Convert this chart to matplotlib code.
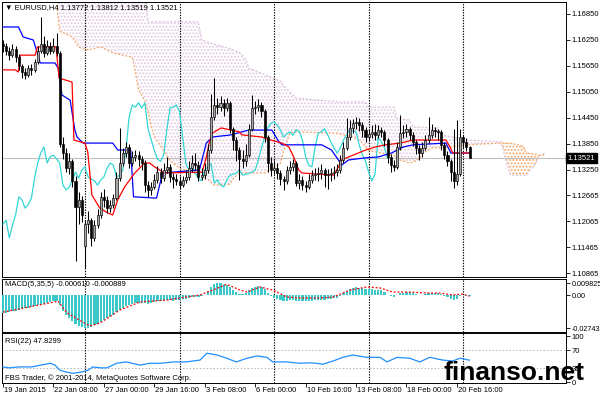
import numpy as np
import matplotlib.pyplot as plt
from matplotlib.transforms import blended_transform_factory as blend

plt.rcParams['font.family'] = ['Liberation Sans', 'DejaVu Sans']
plt.rcParams['hatch.linewidth'] = 0.9

# EURUSD H4, bar 0 = 19 Jan 2015 16:00 (server time)
opens = [1.1615, 1.1610, 1.1600, 1.1590, 1.1605, 1.1585, 1.1565, 1.1550, 1.1545, 1.1560,
         1.1555, 1.1575, 1.1600, 1.1615, 1.1595, 1.1610, 1.1600, 1.1612, 1.1595, 1.1385,
         1.1365, 1.1330, 1.1345, 1.1300, 1.1240, 1.1255, 1.1150, 1.1200, 1.1209, 1.1168,
         1.1198, 1.1221, 1.1263, 1.1256, 1.1237, 1.1245, 1.1260, 1.1306, 1.1341, 1.1365,
         1.1378, 1.1341, 1.1356, 1.1359, 1.1350, 1.1341, 1.1290, 1.1279, 1.1285, 1.1302,
         1.1320, 1.1306, 1.1325, 1.1332, 1.1309, 1.1304, 1.1300, 1.1290, 1.1302, 1.1309,
         1.1329, 1.1341, 1.1336, 1.1309, 1.1313, 1.1325, 1.1371, 1.1447, 1.1475, 1.1470,
         1.1480, 1.1468, 1.1480, 1.1420, 1.1395, 1.1370, 1.1350, 1.1345, 1.1360, 1.1420,
         1.1468, 1.1470, 1.1475, 1.1460, 1.1400, 1.1340, 1.1325, 1.1330, 1.1318, 1.1305,
         1.1300, 1.1325, 1.1332, 1.1340, 1.1295, 1.1302, 1.1290, 1.1286, 1.1302, 1.1313,
         1.1315, 1.1318, 1.1325, 1.1313, 1.1315, 1.1318, 1.1320, 1.1325, 1.1348, 1.1376,
         1.1401, 1.1422, 1.1433, 1.1436, 1.1429, 1.1417, 1.1401, 1.1408, 1.1413, 1.1405,
         1.1418, 1.1413, 1.1394, 1.1355, 1.1336, 1.1332, 1.1378, 1.1410, 1.1413, 1.1420,
         1.1406, 1.1390, 1.1376, 1.1364, 1.1376, 1.1394, 1.1406, 1.1417, 1.1415, 1.1413,
         1.1383, 1.1360, 1.1345, 1.1320, 1.1300, 1.1315, 1.1400, 1.1390, 1.1377]
highs = [1.1625, 1.1618, 1.1608, 1.1615, 1.1610, 1.1592, 1.1570, 1.1560, 1.1568, 1.1570,
         1.1582, 1.1610, 1.1679, 1.1635, 1.1625, 1.1620, 1.1630, 1.1640, 1.1600, 1.1400,
         1.1375, 1.1365, 1.1350, 1.1310, 1.1275, 1.1265, 1.1210, 1.1230, 1.1215, 1.1210,
         1.1235, 1.1275, 1.1280, 1.1265, 1.1255, 1.1270, 1.1320, 1.1422, 1.1375, 1.1390,
         1.1385, 1.1368, 1.1372, 1.1368, 1.1358, 1.1348, 1.1300, 1.1298, 1.1315, 1.1335,
         1.1330, 1.1340, 1.1355, 1.1338, 1.1318, 1.1315, 1.1310, 1.1312, 1.1325, 1.1345,
         1.1360, 1.1365, 1.1345, 1.1330, 1.1340, 1.1385, 1.1500, 1.1537, 1.1490, 1.1495,
         1.1488, 1.1492, 1.1485, 1.1425, 1.1400, 1.1378, 1.1372, 1.1385, 1.1430, 1.1498,
         1.1485, 1.1488, 1.1482, 1.1465, 1.1405, 1.1355, 1.1348, 1.1340, 1.1325, 1.1312,
         1.1335, 1.1345, 1.1350, 1.1345, 1.1315, 1.1310, 1.1300, 1.1315, 1.1325, 1.1330,
         1.1332, 1.1338, 1.1330, 1.1328, 1.1330, 1.1335, 1.1338, 1.1360, 1.1390, 1.1445,
         1.1440, 1.1442, 1.1448, 1.1445, 1.1435, 1.1425, 1.1420, 1.1428, 1.1432, 1.1428,
         1.1425, 1.1418, 1.1398, 1.1362, 1.1348, 1.1390, 1.1452, 1.1428, 1.1432, 1.1425,
         1.1412, 1.1395, 1.1382, 1.1390, 1.1405, 1.1447, 1.1430, 1.1425, 1.1420, 1.1418,
         1.1390, 1.1368, 1.1350, 1.1420, 1.1440, 1.1420, 1.1405, 1.1398, 1.1381]
lows = [1.1598, 1.1590, 1.1578, 1.1585, 1.1575, 1.1555, 1.1538, 1.1535, 1.1540, 1.1545,
        1.1550, 1.1570, 1.1595, 1.1585, 1.1590, 1.1592, 1.1595, 1.1588, 1.1378, 1.1350,
        1.1320, 1.1315, 1.1285, 1.1114, 1.1200, 1.1205, 1.1099, 1.1180, 1.1150, 1.1160,
        1.1190, 1.1215, 1.1240, 1.1225, 1.1228, 1.1238, 1.1255, 1.1300, 1.1335, 1.1355,
        1.1330, 1.1335, 1.1345, 1.1335, 1.1325, 1.1275, 1.1263, 1.1268, 1.1280, 1.1295,
        1.1295, 1.1300, 1.1318, 1.1298, 1.1283, 1.1290, 1.1280, 1.1285, 1.1295, 1.1302,
        1.1320, 1.1325, 1.1300, 1.1302, 1.1305, 1.1318, 1.1365, 1.1440, 1.1455, 1.1460,
        1.1450, 1.1460, 1.1410, 1.1370, 1.1345, 1.1302, 1.1330, 1.1335, 1.1355, 1.1415,
        1.1455, 1.1460, 1.1448, 1.1390, 1.1320, 1.1312, 1.1315, 1.1305, 1.1290, 1.1278,
        1.1292, 1.1315, 1.1322, 1.1288, 1.1282, 1.1278, 1.1275, 1.1280, 1.1295, 1.1302,
        1.1300, 1.1305, 1.1285, 1.1280, 1.1300, 1.1305, 1.1310, 1.1318, 1.1340, 1.1370,
        1.1395, 1.1410, 1.1420, 1.1415, 1.1400, 1.1390, 1.1392, 1.1398, 1.1395, 1.1398,
        1.1400, 1.1380, 1.1340, 1.1320, 1.1322, 1.1328, 1.1372, 1.1398, 1.1402, 1.1395,
        1.1380, 1.1362, 1.1348, 1.1355, 1.1370, 1.1388, 1.1398, 1.1400, 1.1395, 1.1372,
        1.1350, 1.1335, 1.1300, 1.1283, 1.1290, 1.1310, 1.1375, 1.1368, 1.1352]
closes = [1.1610, 1.1600, 1.1590, 1.1605, 1.1585, 1.1565, 1.1550, 1.1545, 1.1560, 1.1555,
          1.1575, 1.1600, 1.1615, 1.1595, 1.1610, 1.1600, 1.1612, 1.1595, 1.1385, 1.1365,
          1.1330, 1.1345, 1.1300, 1.1240, 1.1255, 1.1220, 1.1200, 1.1209, 1.1168, 1.1198,
          1.1221, 1.1263, 1.1256, 1.1237, 1.1245, 1.1260, 1.1306, 1.1341, 1.1365, 1.1378,
          1.1341, 1.1356, 1.1359, 1.1350, 1.1341, 1.1290, 1.1279, 1.1285, 1.1302, 1.1320,
          1.1306, 1.1325, 1.1332, 1.1309, 1.1304, 1.1300, 1.1290, 1.1302, 1.1309, 1.1329,
          1.1341, 1.1336, 1.1309, 1.1313, 1.1325, 1.1371, 1.1447, 1.1475, 1.1470, 1.1480,
          1.1468, 1.1480, 1.1420, 1.1395, 1.1370, 1.1350, 1.1345, 1.1360, 1.1420, 1.1468,
          1.1470, 1.1475, 1.1460, 1.1400, 1.1340, 1.1325, 1.1330, 1.1318, 1.1305, 1.1300,
          1.1325, 1.1332, 1.1340, 1.1295, 1.1302, 1.1290, 1.1286, 1.1302, 1.1313, 1.1315,
          1.1318, 1.1325, 1.1313, 1.1315, 1.1318, 1.1320, 1.1325, 1.1348, 1.1376, 1.1401,
          1.1422, 1.1433, 1.1436, 1.1429, 1.1417, 1.1401, 1.1408, 1.1413, 1.1405, 1.1418,
          1.1413, 1.1394, 1.1355, 1.1336, 1.1332, 1.1378, 1.1410, 1.1413, 1.1420, 1.1406,
          1.1390, 1.1376, 1.1364, 1.1376, 1.1394, 1.1406, 1.1417, 1.1415, 1.1413, 1.1383,
          1.1360, 1.1345, 1.1320, 1.1300, 1.1315, 1.1400, 1.1390, 1.1377, 1.1352]

time_labels = ["19 Jan 2015", "22 Jan 08:00", "27 Jan 00:00", "29 Jan 16:00", "3 Feb 08:00",
               "6 Feb 00:00", "10 Feb 16:00", "13 Feb 08:00", "18 Feb 00:00", "20 Feb 16:00"]
label_bars = [0, 16, 32, 48, 64, 80, 96, 112, 128, 144]
week_bars = [26, 56, 86, 116, 146]

# Ichimoku (9, 26, 52) lines: (bar, price)
tenkan_bar = [0, 3.9, 4.9, 5.5, 10.2, 10.9, 16.8, 17.8, 21.9, 22.5, 26, 26.9, 28.2, 30.7,
              33.2, 34.8, 36.4, 38.6, 41.8, 44.9, 46.5, 48.1, 51.2, 63.2, 64.5, 65.4, 66.4,
              69.2, 72.4, 74.9, 75.8, 82.1, 85, 88.5, 90.7, 92.2, 93.8, 94.8, 104.9, 106.4,
              107.4, 109.6, 112.7, 115, 118.1, 121.3, 126, 130.1, 140.5, 141.8, 142.7, 148]
tenkan_val = [1.1556, 1.1556, 1.1551, 1.1590, 1.1590, 1.1609, 1.1609, 1.1537, 1.1528, 1.1394,
              1.1387, 1.1366, 1.1267, 1.1237, 1.1226, 1.1221, 1.1256, 1.1286, 1.1318, 1.1341,
              1.1341, 1.1332, 1.1318, 1.1320, 1.1355, 1.1387, 1.1410, 1.1422, 1.1417, 1.1413,
              1.1406, 1.1401, 1.1394, 1.1387, 1.1378, 1.1355, 1.1325, 1.1318, 1.1313, 1.1332,
              1.1348, 1.1355, 1.1364, 1.1371, 1.1378, 1.1383, 1.1387, 1.1394, 1.1394, 1.1378,
              1.1364, 1.1364]
kijun_bar = [0, 4.9, 6.4, 9.6, 10.9, 11.8, 16.5, 17.5, 18.7, 21.3, 22.8, 23.5, 25.4, 34.8,
             36.4, 40.5, 41.4, 48.7, 50.6, 62.3, 64.5, 66.4, 72.4, 75.8, 78, 85.3, 87.5, 88.5,
             101.1, 104.2, 106.4, 107.4, 109.6, 115, 119.1, 123.2, 127, 130.1, 140.5, 142.1, 148]
kijun_val = [1.1655, 1.1655, 1.1632, 1.1625, 1.1595, 1.1572, 1.1572, 1.1560, 1.1498, 1.1486,
             1.1417, 1.1401, 1.1387, 1.1387, 1.1371, 1.1371, 1.1263, 1.1260, 1.1318, 1.1325,
             1.1387, 1.1401, 1.1406, 1.1413, 1.1417, 1.1417, 1.1390, 1.1383, 1.1383, 1.1371,
             1.1348, 1.1336, 1.1348, 1.1353, 1.1355, 1.1364, 1.1378, 1.1383, 1.1387, 1.1364,
             1.1364]
cloud_bar = [17, 18, 22, 24, 27, 31, 35, 41, 42, 43, 45, 46, 47, 48, 50, 52, 53, 56, 62, 63,
             65, 67, 72, 73, 75, 77, 78, 83, 88, 89, 91, 93, 105, 106, 111, 114, 115, 116,
             124, 125, 126, 129, 130, 132, 133, 136, 138, 140, 147, 158, 160, 161, 165, 166,
             169, 170, 172]
span_a = [1.1705, 1.1645, 1.1632, 1.1608, 1.1602, 1.1609, 1.1595, 1.1585, 1.1550, 1.1510,
          1.1485, 1.1460, 1.1425, 1.1402, 1.1380, 1.1357, 1.1346, 1.1329, 1.1314, 1.1312,
          1.1303, 1.1290, 1.1292, 1.1305, 1.1318, 1.1318, 1.1318, 1.1318, 1.1340, 1.1368,
          1.1410, 1.1413, 1.1410, 1.1409, 1.1401, 1.1388, 1.1378, 1.1370, 1.1358, 1.1353,
          1.1348, 1.1341, 1.1343, 1.1350, 1.1362, 1.1376, 1.1376, 1.1376, 1.1383, 1.1387,
          1.1387, 1.1387, 1.1380, 1.1364, 1.1361, 1.1359, 1.1359]
span_b = [1.1764, 1.1764, 1.1764, 1.1764, 1.1764, 1.1764, 1.1764, 1.1764, 1.1764, 1.1764,
          1.1764, 1.1667, 1.1667, 1.1667, 1.1667, 1.1667, 1.1667, 1.1667, 1.1667, 1.1625,
          1.1620, 1.1615, 1.1605, 1.1602, 1.1596, 1.1580, 1.1560, 1.1545, 1.1530, 1.1520,
          1.1505, 1.1491, 1.1483, 1.1482, 1.1482, 1.1482, 1.1482, 1.1470, 1.1470, 1.1445,
          1.1444, 1.1440, 1.1424, 1.1424, 1.1423, 1.1422, 1.1422, 1.1405, 1.1394, 1.1390,
          1.1335, 1.1313, 1.1313, 1.1313, 1.1340, 1.1357, 1.1364]

# MACD(5,35,5): main per bar, signal read as a line
macd_main = [-0.0150, -0.0145, -0.0140, -0.0134, -0.0128, -0.0122, -0.0116, -0.0110, -0.0104, -0.0098,
             -0.0092, -0.0085, -0.0078, -0.0071, -0.0064, -0.0057, -0.0050, -0.0045, -0.0085, -0.0130,
             -0.0165, -0.0190, -0.0212, -0.0240, -0.0255, -0.0265, -0.0274, -0.0268, -0.0262, -0.0250,
             -0.0236, -0.0220, -0.0205, -0.0192, -0.0178, -0.0162, -0.0142, -0.0122, -0.0104, -0.0090,
             -0.0082, -0.0072, -0.0066, -0.0062, -0.0062, -0.0066, -0.0070, -0.0066, -0.0058, -0.0052,
             -0.0050, -0.0045, -0.0040, -0.0042, -0.0045, -0.0042, -0.0040, -0.0034, -0.0030, -0.0024,
             -0.0016, -0.0013, -0.0013, -0.0006, 0.0005, 0.0032, 0.0068, 0.0090, 0.0098, 0.0098,
             0.0092, 0.0088, 0.0065, 0.0045, 0.0025, 0.0010, 0.0008, 0.0015, 0.0040, 0.0062,
             0.0072, 0.0075, 0.0070, 0.0050, 0.0015, -0.0010, -0.0025, -0.0035, -0.0042, -0.0048,
             -0.0045, -0.0042, -0.0040, -0.0048, -0.0050, -0.0052, -0.0052, -0.0048, -0.0045, -0.0042,
             -0.0040, -0.0036, -0.0036, -0.0034, -0.0030, -0.0026, -0.0020, -0.0005, 0.0015, 0.0035,
             0.0050, 0.0060, 0.0065, 0.0062, 0.0058, 0.0050, 0.0048, 0.0048, 0.0046, 0.0045,
             0.0042, 0.0025, 0.0005, -0.0008, -0.0012, 0.0002, 0.0015, 0.0022, 0.0025, 0.0025,
             0.0020, 0.0012, 0.0005, 0.0005, 0.0010, 0.0015, 0.0020, 0.0020, 0.0018, 0.0008,
             -0.0005, -0.0015, -0.0030, -0.0040, -0.0035, -0.0010, 0.0000, -0.0003, -0.0006]
signal_bar = [0, 17.5, 20.3, 27.5, 30.8, 37.1, 43.4, 52, 62.5, 66.6, 71, 75.2, 77.4, 81.5,
              85.6, 90.1, 94.2, 100.5, 104.7, 110.1, 115.5, 119.6, 123.7, 129.1, 134.5,
              138.6, 142.7, 145.9, 148]
signal_val = [-0.0140, -0.0050, -0.0147, -0.0255, -0.0230, -0.0123, -0.0056, -0.0040, 0.0002,
              0.0043, 0.0090, 0.0043, 0.0026, 0.0068, 0.0043, -0.0015, -0.0023, -0.0023,
              -0.0015, 0.0043, 0.0068, 0.0060, 0.0026, 0.0026, 0.0018, 0.0018, 0.0002,
              0.0010, -0.0009]

# RSI(22)
rsi_bar = [0, 2, 5, 9, 12, 15, 16.5, 18, 20, 22, 25, 27, 28.5, 31, 33, 36, 39, 43.5, 46.5, 50,
           54, 58, 62.5, 64.7, 68, 71, 74, 77.4, 80.6, 83.7, 85.6, 90, 94, 98, 101.5, 104.7,
           107.8, 111, 115.4, 119.6, 121.8, 125, 129, 132.2, 135.4, 139.5, 142.7, 145, 148]
rsi_val = [33, 31, 33, 33, 37, 41, 37, 26, 22, 19, 22, 26, 33, 31, 31, 41, 44, 37, 41, 41,
           44, 44, 48, 63, 59, 52, 44, 52, 57, 54, 44, 44, 41, 42, 39, 46, 54, 59, 54, 54,
           44, 54, 52, 44, 54, 48, 46, 52, 47.83]

price_ticks = [1.16850, 1.16250, 1.15650, 1.15050, 1.14450, 1.13850, 1.13250,
               1.12665, 1.12065, 1.11465, 1.10865]
last_price = 1.13521

W, H = 600, 398
fig = plt.figure(figsize=(W / 100, H / 100), dpi=100)


def pane(top, bottom):
    return fig.add_axes([2 / W, 1 - bottom / H, 564 / W, (bottom - top) / H])


ax = pane(2, 277)
ax2 = pane(278.5, 331.7)
ax3 = pane(333.3, 383.3)

for a in (ax, ax2, ax3):
    a.set_xlim(-0.32, 178.6)
    for s in a.spines.values():
        s.set_linewidth(0.7)
        s.set_color('black')
    a.yaxis.tick_right()
    a.tick_params(axis='y', length=3, width=0.6, pad=1.0, labelsize=5.5, colors='black')
    a.tick_params(axis='x', bottom=False, labelbottom=False)
    for b in week_bars:
        a.axvline(b, color='black', lw=0.8, ls=(0, (1.2, 1.2)), zorder=2)

# ---- main pane
ax.set_ylim(1.10779, 1.17127)
n = len(closes)
idx = np.arange(n)
o = np.array(opens)
c = np.array(closes)
hi = np.array(highs)
lo = np.array(lows)
ca = np.array(span_a)
cb = np.array(span_b)

ax.fill_between(cloud_bar, ca, cb, where=cb >= ca, interpolate=True, facecolor='none',
                edgecolor='#e2c8e2', hatch='.....', linewidth=0, zorder=1)
ax.fill_between(cloud_bar, ca, cb, where=ca > cb, interpolate=True, facecolor='none',
                edgecolor='#f4a460', hatch='.....', linewidth=0, zorder=1)
ax.plot(cloud_bar, span_b, color='#d8bfd8', lw=0.9, ls=(0, (1.5, 1.5)), zorder=2)
ax.plot(cloud_bar, span_a, color='#f4a460', lw=0.9, ls=(0, (1.5, 1.5)), zorder=2)

ax.axhline(last_price, color='#c0c0c0', lw=0.8, zorder=1)

ax.plot(idx[:n - 26], c[26:], color='#33d6d6', lw=0.9, zorder=3)  # chikou
ax.plot(kijun_bar, kijun_val, color='#0000ff', lw=0.9, zorder=3)
ax.plot(tenkan_bar, tenkan_val, color='#ff0000', lw=0.9, zorder=3)

up = c >= o
ax.vlines(idx, lo, hi, color='black', lw=0.75, zorder=4)
body_lo = np.minimum(o, c)
body_h = np.maximum(np.abs(c - o), 0.00004)
ax.bar(idx[up], body_h[up], bottom=body_lo[up], width=0.65, color='#a6a6a6',
       edgecolor='black', linewidth=0.45, zorder=5)
ax.bar(idx[~up], body_h[~up], bottom=body_lo[~up], width=0.65, color='black',
       edgecolor='black', linewidth=0.45, zorder=5)

ax.set_yticks(price_ticks)
ax.set_yticklabels([f"{p:.5f}" for p in price_ticks])
ax.text(1.003, last_price, f"{last_price:.5f}", transform=blend(ax.transAxes, ax.transData),
        color='white', fontsize=5.5, va='center', ha='left', zorder=10, clip_on=False,
        bbox=dict(boxstyle='square,pad=0.18', fc='black', ec='black'))

# ---- MACD pane
ax2.set_ylim(-0.03022, 0.01383)
ax2.bar(idx, macd_main, width=0.7, color='#3cc8c8', linewidth=0, zorder=3)
ax2.plot(signal_bar, signal_val, color='red', lw=0.9, ls=(0, (1.5, 1.5)), zorder=4)
ax2.set_yticks([0.009825, 0.0, -0.027432])
ax2.set_yticklabels(["0.009825", "0.00", "-0.027432"])
ax2.tick_params(axis='y', labelsize=5.2, pad=0.8)

# ---- RSI pane
ax3.set_ylim(-2.8, 106.6)
for lvl in (70, 30):
    ax3.axhline(lvl, color='#b4b4b4', lw=0.7, ls=(0, (1.5, 2)), zorder=1)
ax3.plot(rsi_bar, rsi_val, color='#1e90ff', lw=0.9, zorder=3)
ax3.set_yticks([100, 70, 30, 0])
ax3.set_yticklabels(["100", "70", "30", "0"])
ax3.set_xticks(label_bars)
ax3.tick_params(axis='x', bottom=True, length=3, width=0.6, direction='out')
tr = blend(ax3.transData, ax3.transAxes)
for b, lab in zip(label_bars, time_labels):
    ax3.text(b + 0.3, -0.135, lab, transform=tr, ha='left', va='center', fontsize=5.5,
             clip_on=False)

# ---- captions
fig.text(5 / W, 1 - 7.5 / H, "\u25bc EURUSD,H4 1.13772 1.13812 1.13519 1.13521",
         fontsize=5.5, va='center', ha='left')
fig.text(5 / W, 1 - 285 / H, "MACD(5,35,5) -0.000610 -0.000889", fontsize=5.5,
         va='center', ha='left')
fig.text(5 / W, 1 - 341.5 / H, "RSI(22) 47.8299", fontsize=5.5, va='center', ha='left')
fig.text(5 / W, 1 - 378 / H, "FBS Trader, \u00a9 2001-2014, MetaQuotes Software Corp.",
         fontsize=5.5, va='center', ha='left')
fig.text(443 / W, 1 - 380 / H, "finanso.net", fontsize=19, fontweight='bold',
         va='baseline', ha='left', color='black', zorder=20)

fig.savefig("out.png", dpi=100, facecolor='white')
